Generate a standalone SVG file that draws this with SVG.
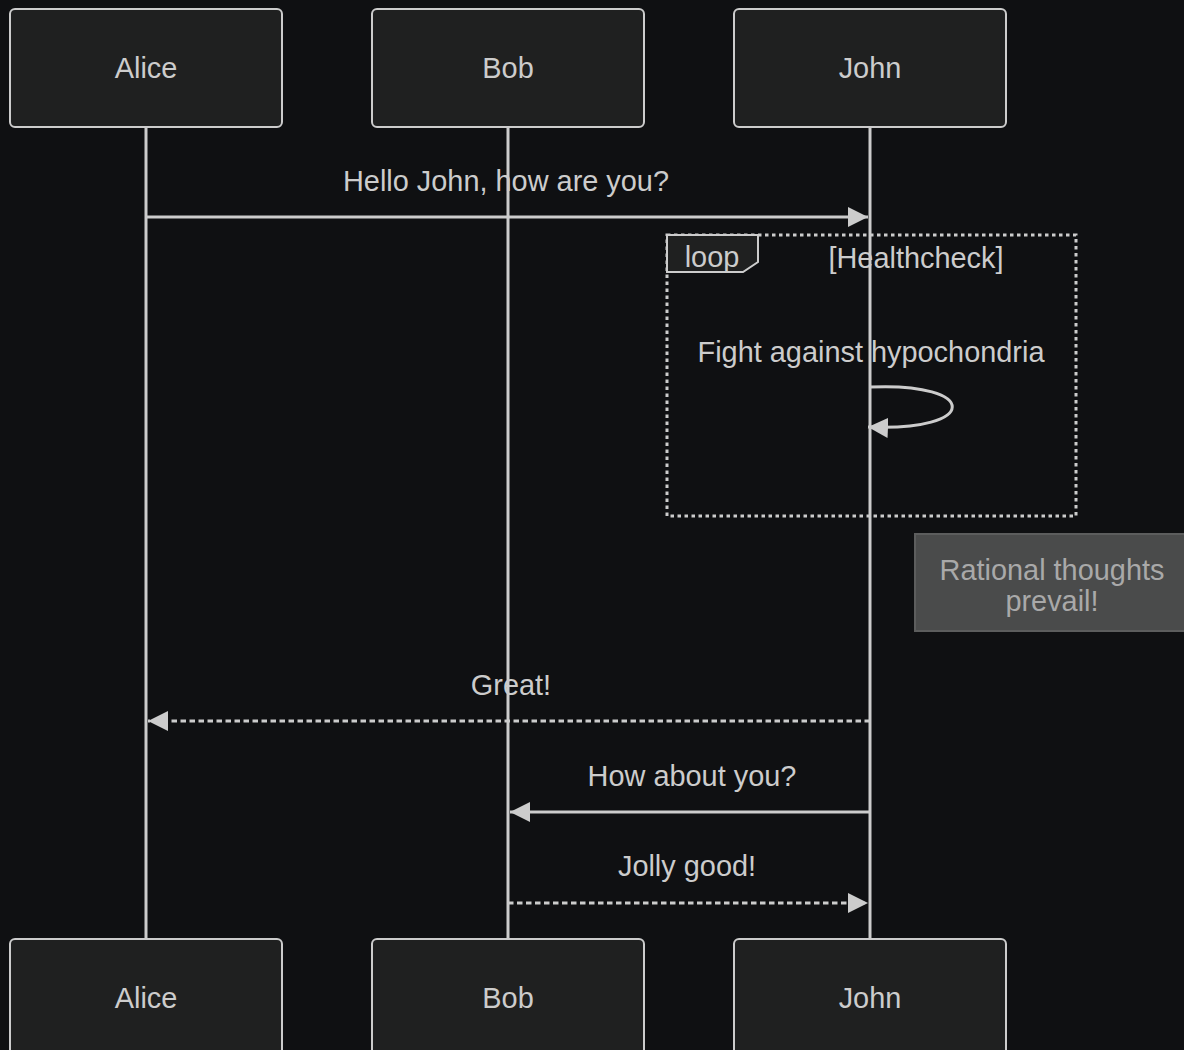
<svg xmlns="http://www.w3.org/2000/svg" width="1184" height="1050" viewBox="0 0 1184 1050">
<defs>
<style>
text{font-family:"Liberation Sans",Arial,sans-serif;font-size:28.9px;fill:#cccccc;text-anchor:middle}
.actor{fill:#1f2020;stroke:#cccccc;stroke-width:2}
.life{stroke:#cccccc;stroke-width:3}
.msg{stroke:#cccccc;stroke-width:3;fill:none}
.dash{stroke-dasharray:5.5,3.5}
.loopbox{fill:none;stroke:#cccccc;stroke-width:3;stroke-dasharray:3.5,3.5}
.note{fill:#4a4b4b;stroke:#5c5d5d;stroke-width:2}
.notetext{fill:#a9a9a9}
</style>
<marker id="arr" viewBox="0 0 12 12" refX="12" refY="6" markerWidth="20" markerHeight="20" markerUnits="userSpaceOnUse" orient="auto">
<path d="M0,0 L12,6 L0,12 z" fill="#cccccc"/>
</marker>
</defs>
<rect x="0" y="0" width="1184" height="1050" fill="#0f1012"/>
<g id="lifelines">
<line class="life" x1="146" y1="127" x2="146" y2="939"/>
<line class="life" x1="508" y1="127" x2="508" y2="939"/>
<line class="life" x1="870" y1="127" x2="870" y2="939"/>
</g>
<g id="actor-alice-top"><rect class="actor" x="10" y="9" width="272" height="118" rx="5"/><text x="146" y="78">Alice</text></g>
<g id="actor-bob-top"><rect class="actor" x="372" y="9" width="272" height="118" rx="5"/><text x="508" y="78">Bob</text></g>
<g id="actor-john-top"><rect class="actor" x="734" y="9" width="272" height="118" rx="5"/><text x="870" y="78">John</text></g>
<g id="actor-alice-bottom"><rect class="actor" x="10" y="939" width="272" height="118" rx="5"/><text x="146" y="1008">Alice</text></g>
<g id="actor-bob-bottom"><rect class="actor" x="372" y="939" width="272" height="118" rx="5"/><text x="508" y="1008">Bob</text></g>
<g id="actor-john-bottom"><rect class="actor" x="734" y="939" width="272" height="118" rx="5"/><text x="870" y="1008">John</text></g>
<g id="loop">
<rect class="loopbox" x="667" y="235" width="409" height="281"/>
<path d="M667,235 L758,235 L758,262 L743,272 L667,272 Z" fill="#1f2020" stroke="#cccccc" stroke-width="2"/>
<text x="712" y="267">loop</text>
<text x="916" y="268">[Healthcheck]</text>
</g>
<g id="note">
<rect class="note" x="915" y="534" width="275" height="97"/>
<text class="notetext" x="1052" y="580">Rational thoughts</text>
<text class="notetext" x="1052" y="611">prevail!</text>
</g>
<g id="connectors">
<line class="msg" x1="146" y1="217" x2="868" y2="217" marker-end="url(#arr)"/>
<text x="506" y="191">Hello John, how are you?</text>
<text x="871" y="362">Fight against hypochondria</text>
<path class="msg" d="M870,387 C980,382 980,432 868,427" marker-end="url(#arr)"/>
<line class="msg dash" x1="870" y1="721" x2="148" y2="721" marker-end="url(#arr)"/>
<text x="511" y="695">Great!</text>
<line class="msg" x1="870" y1="812" x2="510" y2="812" marker-end="url(#arr)"/>
<text x="692" y="786">How about you?</text>
<line class="msg dash" x1="508" y1="903" x2="868" y2="903" marker-end="url(#arr)"/>
<text x="687" y="876">Jolly good!</text>
</g>
</svg>
